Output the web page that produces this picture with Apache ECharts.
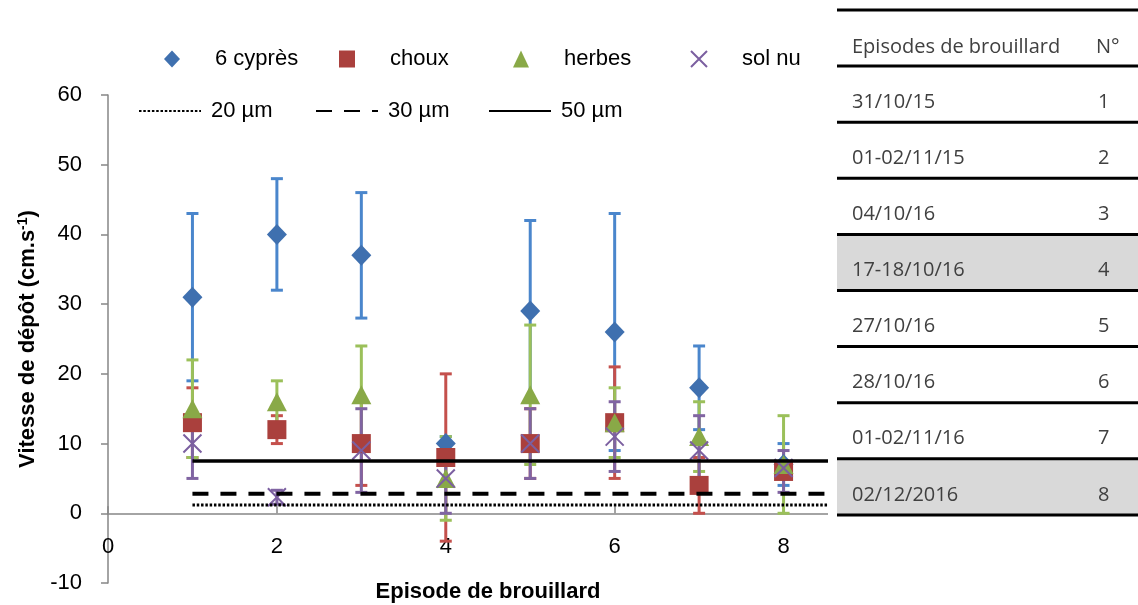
<!DOCTYPE html>
<html>
<head>
<meta charset="utf-8">
<script src="https://cdn.jsdelivr.net/npm/echarts@6/dist/echarts.min.js"></script>
<style>
html, body { margin: 0; padding: 0; background: #fff; }
#main { width: 1138px; height: 605px; }
</style>
</head>
<body>
<div id="main"></div>
<script>
// episodes (x)
var episodes = [1, 2, 3, 4, 5, 6, 7, 8];

// 6 cyprès
var cypres     = [31, 40, 37, 10, 29, 26, 18, 7];
var cypresLow  = [19, 32, 28, 9, 16, 9, 12, 4];
var cypresHigh = [43, 48, 46, 11, 42, 43, 24, 10];

// choux
var choux     = [13, 12, 10, 8, 10, 13, 4, 6];
var chouxLow  = [8, 10, 4, -4, 5, 5, 0, 5];
var chouxHigh = [18, 14, 16, 20, 15, 21, 8, 7];

// herbes
var herbes     = [15, 16, 17, 5, 17, 13, 11, 7];
var herbesLow  = [8, 13, 10, -1, 7, 8, 6, 0];
var herbesHigh = [22, 19, 24, 11, 27, 18, 16, 14];

// sol nu
var solnu     = [10, 2.3, 9, 5, 10, 11, 9, 6.5];
var solnuLow  = [5, 1.3, 3, 0, 5, 6, 4, 3];
var solnuHigh = [14, 3.3, 15, 10, 15, 16, 14, 9];

// lignes de référence (taille des gouttes)
var refNames  = ['20 µm', '30 µm', '50 µm'];
var refValues = [1.2, 2.8, 7.5];
var refFrom = 1, refTo = 9;

// tableau
var tableHeader = ['Episodes de brouillard', 'N°'];
var tableDates = ['31/10/15', '01-02/11/15', '04/10/16', '17-18/10/16', '27/10/16', '28/10/16', '01-02/11/16', '02/12/2016'];
var tableNums  = ['1', '2', '3', '4', '5', '6', '7', '8'];
var shadedRows = [4, 8];

var FONT = 'Liberation Sans';

function pts(vals) {
    var d = [];
    for (var i = 0; i < episodes.length; i++) d.push([episodes[i], vals[i]]);
    return d;
}

function errorSeries(name, low, high, color) {
    var d = [];
    for (var i = 0; i < episodes.length; i++) d.push([episodes[i], low[i], high[i]]);
    return {
        type: 'custom',
        name: name + '_err',
        silent: true,
        encode: { x: 0, y: [1, 2] },
        data: d,
        renderItem: function (params, api) {
            var x = api.value(0);
            var top = api.coord([x, api.value(2)]);
            var bot = api.coord([x, api.value(1)]);
            var w = 6;
            var st = { stroke: color, lineWidth: 3 };
            return {
                type: 'group',
                children: [
                    { type: 'line', shape: { x1: top[0], y1: top[1], x2: bot[0], y2: bot[1] }, style: st },
                    { type: 'line', shape: { x1: top[0] - w, y1: top[1], x2: top[0] + w, y2: top[1] }, style: st },
                    { type: 'line', shape: { x1: bot[0] - w, y1: bot[1], x2: bot[0] + w, y2: bot[1] }, style: st }
                ]
            };
        }
    };
}

var series = [];
// lignes de référence
var refStyles = [
    { color: '#000', width: 3, type: [2.5, 1.8] },
    { color: '#000', width: 4, type: [16, 12] },
    { color: '#000', width: 3.5, type: 'solid' }
];
for (var r = 0; r < refNames.length; r++) {
    series.push({
        type: 'line',
        name: refNames[r],
        symbol: 'none',
        showSymbol: false,
        silent: true,
        lineStyle: refStyles[r],
        itemStyle: { color: '#000' },
        data: [[refFrom, refValues[r]], [refTo, refValues[r]]]
    });
}
// barres d'erreur
series.push(errorSeries('6 cyprès', cypresLow, cypresHigh, '#4a86cc'));
series.push(errorSeries('choux', chouxLow, chouxHigh, '#c4504c'));
series.push(errorSeries('herbes', herbesLow, herbesHigh, '#9bc05a'));
series.push(errorSeries('sol nu', solnuLow, solnuHigh, '#8064a2'));
// marqueurs
series.push({ type: 'scatter', name: '6 cyprès', symbol: 'diamond', symbolSize: [20, 21],
    itemStyle: { color: '#3f70af', opacity: 1 }, data: pts(cypres) });
series.push({ type: 'scatter', name: 'choux', symbol: 'rect', symbolSize: 19,
    itemStyle: { color: '#aa403d', opacity: 1 }, data: pts(choux) });
series.push({ type: 'scatter', name: 'herbes', symbol: 'triangle', symbolSize: [20, 19],
    itemStyle: { color: '#89a947', opacity: 1 }, data: pts(herbes) });
series.push({ type: 'scatter', name: 'sol nu', symbol: 'path://M0,0L10,10M10,0L0,10', symbolSize: 18,
    itemStyle: { color: 'rgba(0,0,0,0)', borderColor: '#7b5fa0', borderWidth: 2, opacity: 1 }, data: pts(solnu) });

function legendSym(name, center) {
    return {
        data: [name], left: center - 8, top: 48, itemWidth: 16, itemHeight: 17,
        padding: 0, selectedMode: false,
        textStyle: { fontFamily: FONT, fontSize: 22, color: '#000', padding: [0, 0, 0, 30] }
    };
}
function legendLine(name, left) {
    return {
        data: [name], left: left, top: 100, itemWidth: 62, itemHeight: 14,
        padding: 0, selectedMode: false,
        itemStyle: { opacity: 0 },
        textStyle: { fontFamily: FONT, fontSize: 22, color: '#000', padding: [0, 0, 0, 5] }
    };
}

// tableau (graphic)
var graphics = [{ type: 'rect', z: 100, shape: { x: 828, y: 0, width: 310, height: 605 }, style: { fill: '#fff' } }];
var tX0 = 837, tX1 = 1138, tY0 = 10, rowH = 56.1;
for (var s = 0; s < shadedRows.length; s++) {
    graphics.push({ type: 'rect', z: 101, shape: { x: tX0, y: tY0 + shadedRows[s] * rowH, width: tX1 - tX0, height: rowH },
        style: { fill: '#d9d9d9' } });
}
for (var k = 0; k <= tableDates.length + 1; k++) {
    graphics.push({ type: 'line', z: 102, shape: { x1: tX0, y1: tY0 + k * rowH, x2: tX1, y2: tY0 + k * rowH },
        style: { stroke: '#000', lineWidth: 3 } });
}
var txtStyle = { fontFamily: 'Open Sans', fontSize: 20, fill: '#404040', verticalAlign: 'middle' };
function tText(str, x, y) {
    return { type: 'text', z: 103, x: x, y: y, style: Object.assign({ text: str }, txtStyle) };
}
graphics.push(tText(tableHeader[0], 852, tY0 + 37));
graphics.push(tText(tableHeader[1], 1096, tY0 + 37));
for (var j = 0; j < tableDates.length; j++) {
    var cy = tY0 + (j + 1) * rowH + 36;
    graphics.push(tText(tableDates[j], 852, cy));
    graphics.push(tText(tableNums[j], 1098, cy));
}

var chart = echarts.init(document.getElementById('main'));
chart.setOption({
    animation: false,
    backgroundColor: '#fff',
    grid: { left: 108, right: 270, top: 95, bottom: 22, containLabel: false,
        outerBounds: { left: -200, top: -200, right: -200, bottom: -200 } },
    legend: [
        legendSym('6 cyprès', 172),
        legendSym('choux', 347),
        legendSym('herbes', 521),
        legendSym('sol nu', 698),
        legendLine('20 µm', 138),
        legendLine('30 µm', 315),
        legendLine('50 µm', 488)
    ],
    xAxis: [{
        // ligne y = 0 avec graduations
        type: 'value', min: 0, max: 9, interval: 2, position: 'top',
        axisLine: { show: true, onZero: true, lineStyle: { color: '#868686', width: 1.5 } },
        axisTick: { show: true, inside: false, length: 7, lineStyle: { color: '#868686', width: 1.5 } },
        axisLabel: { show: false },
        splitLine: { show: false }
    }, {
        // étiquettes et titre
        type: 'value', min: 0, max: 9, interval: 2, position: 'bottom',
        name: 'Episode de brouillard', nameLocation: 'middle', nameGap: 20,
        nameMoveOverlap: false,
        nameTextStyle: { fontFamily: FONT, fontSize: 22, fontWeight: 'bold', color: '#000', verticalAlign: 'bottom' },
        axisLine: { show: false, onZero: false },
        axisTick: { show: false },
        axisLabel: { fontFamily: FONT, fontSize: 22, color: '#000', margin: -47, showMaxLabel: false },
        splitLine: { show: false }
    }],
    yAxis: {
        type: 'value', min: -10, max: 60, interval: 10,
        name: '{a|Vitesse de dépôt (cm.s}{b|-1}{a|)}', nameLocation: 'middle', nameGap: 66,
        nameTextStyle: {
            rich: {
                a: { fontFamily: FONT, fontSize: 22, fontWeight: 'bold', color: '#000' },
                b: { fontFamily: FONT, fontSize: 14, fontWeight: 'bold', color: '#000', padding: [0, 0, 10, 0] }
            }
        },
        axisLine: { show: true, lineStyle: { color: '#868686', width: 1.5 } },
        axisTick: { show: true, length: 7, lineStyle: { color: '#868686', width: 1.5 } },
        axisLabel: { fontFamily: FONT, fontSize: 22, color: '#000', margin: 26 },
        splitLine: { show: false }
    },
    series: series,
    graphic: graphics
});
</script>
</body>
</html>
